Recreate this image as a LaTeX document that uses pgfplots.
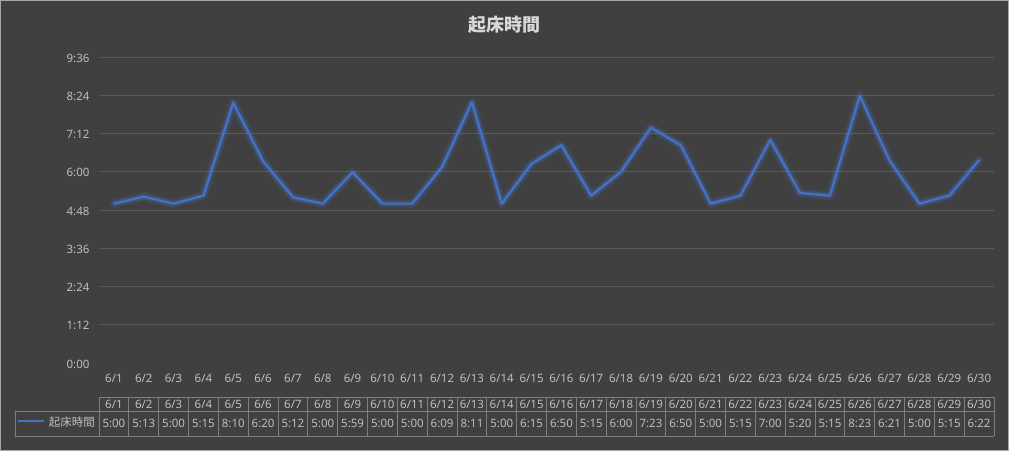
\documentclass[border=0pt]{standalone}
\usepackage{fontspec}
\setmainfont{Noto Sans}
\newfontfamily\cjk{Noto Sans CJK JP}
\usepackage{pgfplots}
\pgfplotsset{compat=1.18}

\definecolor{bg}{HTML}{404040}
\definecolor{gridc}{HTML}{5A5A5A}
\definecolor{txt}{HTML}{BFBFBF}
\definecolor{ttl}{HTML}{D9D9D9}
\definecolor{tabl}{HTML}{7F7F7F}
\definecolor{wake}{HTML}{4472C4}

\begin{document}
\begin{tikzpicture}[x=1pt,y=1pt]
\useasboundingbox (0,0) rectangle (1009,451);
\fill[bg] (0,0) rectangle (1009,451);
\draw[gray!70, line width=1pt] (0.5,0.5) rectangle (1008.5,450.5);

% title
\node[ttl, font=\cjk\bfseries\fontsize{18}{20}\selectfont] at (504,426) {起床時間};

\begin{axis}[
  at={(99pt,88pt)}, anchor=south west,
  scale only axis, width=895pt, height=306pt,
  xmin=-0.5, xmax=29.5, ymin=0, ymax=576,
  clip=false,
  axis line style={draw=none},
  tick style={draw=none},
  xtick={0,...,29},
  xticklabel={6/\pgfmathparse{int(\tick+1)}\pgfmathresult},
  xticklabel style={txt, font=\fontsize{11.5}{13}\selectfont, yshift=-8pt},
  ytick={72,144,...,576},
  yticklabels={1:12,2:24,3:36,4:48,6:00,7:12,8:24,9:36},
  extra y ticks={0},
  extra y tick labels={0:00},
  extra y tick style={grid=none},
  yticklabel style={txt, font=\fontsize{11.5}{13}\selectfont, xshift=-6pt, yshift=-1pt},
  ymajorgrids,
  major grid style={gridc, line width=0.9pt},
]
% minutes after midnight
\addplot[wake, opacity=0.15, line width=9pt, line join=round, line cap=round]
  coordinates {(0,300)(1,313)(2,300)(3,315)(4,490)(5,380)(6,312)(7,300)(8,359)(9,300)(10,300)(11,369)(12,491)(13,300)(14,375)(15,410)(16,315)(17,360)(18,443)(19,410)(20,300)(21,315)(22,420)(23,320)(24,315)(25,503)(26,381)(27,300)(28,315)(29,382)};
\addplot[wake, opacity=0.25, line width=5.5pt, line join=round, line cap=round]
  coordinates {(0,300)(1,313)(2,300)(3,315)(4,490)(5,380)(6,312)(7,300)(8,359)(9,300)(10,300)(11,369)(12,491)(13,300)(14,375)(15,410)(16,315)(17,360)(18,443)(19,410)(20,300)(21,315)(22,420)(23,320)(24,315)(25,503)(26,381)(27,300)(28,315)(29,382)};
\addplot[wake, line width=2.2pt, line join=round]
  coordinates {(0,300)(1,313)(2,300)(3,315)(4,490)(5,380)(6,312)(7,300)(8,359)(9,300)(10,300)(11,369)(12,491)(13,300)(14,375)(15,410)(16,315)(17,360)(18,443)(19,410)(20,300)(21,315)(22,420)(23,320)(24,315)(25,503)(26,381)(27,300)(28,315)(29,382)};
\end{axis}

% data table
\begin{scope}[tabl, line width=0.8pt]
  \draw (99,54) -- (994,54);
  \draw (15,40) -- (994,40);
  \draw (15,15) -- (994,15);
  \draw (15,15) -- (15,40);
  \foreach \k in {0,...,30}
    \draw ({99+\k*29.8333},15) -- ({99+\k*29.8333},54);
\end{scope}
\foreach \v [count=\i from 0] in {5:00,5:13,5:00,5:15,8:10,6:20,5:12,5:00,5:59,5:00,5:00,6:09,8:11,5:00,6:15,6:50,5:15,6:00,7:23,6:50,5:00,5:15,7:00,5:20,5:15,8:23,6:21,5:00,5:15,6:22} {
  \pgfmathtruncatemacro{\d}{\i+1}
  \node[txt, font=\fontsize{11.5}{13}\selectfont, inner sep=0pt] at ({99+(\i+0.5)*29.8333},47) {6/\d};
  \node[txt, font=\fontsize{11.5}{13}\selectfont, inner sep=0pt] at ({99+(\i+0.5)*29.8333},27.5) {\v};
}
\draw[wake, line width=2pt] (18,30) -- (44,30);
\node[txt, font=\cjk\fontsize{11.5}{13}\selectfont, anchor=east, inner sep=0pt] at (95,28.5) {起床時間};
\end{tikzpicture}
\end{document}
